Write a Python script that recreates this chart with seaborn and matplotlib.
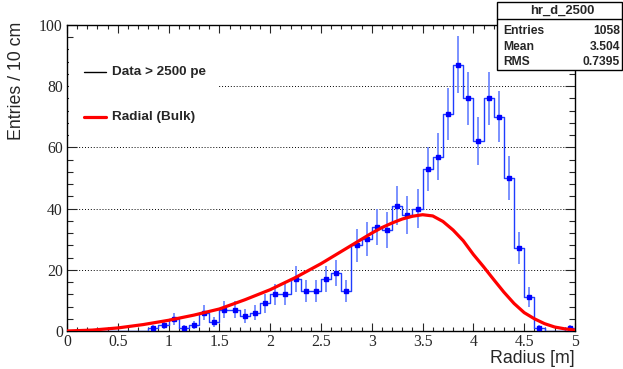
import numpy as np
import pandas as pd
import matplotlib
matplotlib.use("Agg")
import matplotlib.pyplot as plt
import seaborn as sns
from matplotlib.patches import Rectangle
from matplotlib.lines import Line2D
from matplotlib.ticker import MultipleLocator

# ---- data ----
bin_width = 0.1
bin_lo = np.round(np.arange(0.0, 5.0, bin_width), 2)
counts = [0, 0, 0, 0, 0, 0, 0, 0,
          1, 2, 4, 1, 2, 6, 3, 7, 7, 5, 6, 9,
          12, 12, 17, 13, 13, 17, 19, 13, 28, 30,
          34, 33, 41, 38, 40, 53, 57, 71, 87, 76,
          62, 76, 70, 50, 27, 11, 1, 0, 0, 1]

curve_r = [0, 0.25, 0.5, 0.75, 1.0, 1.25, 1.5, 1.75, 2.0, 2.25, 2.5, 2.75,
           3.0, 3.1, 3.2, 3.3, 3.4, 3.5, 3.6, 3.7, 3.8, 3.9, 4.0, 4.1, 4.2,
           4.3, 4.4, 4.5, 4.6, 4.7, 4.8, 4.9, 5.0]
curve_y = [0, 0.3, 1.0, 2.1, 3.5, 5.2, 7.2, 10.2, 13.5, 17.5, 22.0, 27.0,
           32.0, 33.8, 35.3, 36.6, 37.5, 38.0, 37.6, 35.8, 33.0, 29.5, 25.0,
           21.0, 16.8, 12.7, 9.0, 6.0, 4.0, 2.4, 1.3, 0.7, 0.3]

stats_title = "hr_d_2500"
stats_names = ["Entries", "Mean", "RMS"]
stats_values = ["1058", "3.504", "0.7395"]

legend_labels = ["Data > 2500 pe", "Radial (Bulk)"]

# ---- figure ----
sns.set_style("ticks")
plt.rcParams["font.family"] = ["Liberation Sans", "DejaVu Sans"]

W, H = 623, 369
fig = plt.figure(figsize=(W / 100, H / 100), dpi=100)
L, R, T, B = 67, 575, 25, 331
ax = fig.add_axes([L / W, 1 - B / H, (R - L) / W, (B - T) / H])

counts = np.array(counts, dtype=float)
centers = bin_lo + bin_width / 2
hist_df = pd.DataFrame({"r": centers, "n": counts})

blue_line = "#1f3dff"
blue_err = "#7088ff"

sns.histplot(data=hist_df, x="r", weights="n", binwidth=bin_width, binrange=(0, 5),
             element="step", fill=False, color=blue_line, linewidth=1.0, ax=ax,
             zorder=3)

nz = counts > 0
ax.errorbar(centers[nz], counts[nz], yerr=np.sqrt(counts[nz]), fmt="none",
            ecolor=blue_err, elinewidth=1.3, zorder=4)
ax.plot(centers[nz], counts[nz], "s", color="#0000ff", markersize=2.2, zorder=5)

curve_df = pd.DataFrame({"r": curve_r, "y": curve_y})
sns.lineplot(data=curve_df, x="r", y="y", color="#ff0000", linewidth=2.3, ax=ax,
             zorder=6, sort=False)

ax.set_xlim(0, 5)
ax.set_ylim(0, 100)

ax.yaxis.grid(True, linestyle=(0, (1, 2)), color="black", linewidth=0.7)
ax.set_axisbelow(True)

ax.xaxis.set_major_locator(MultipleLocator(0.5))
ax.xaxis.set_minor_locator(MultipleLocator(0.1))
ax.yaxis.set_major_locator(MultipleLocator(20))
ax.yaxis.set_minor_locator(MultipleLocator(4))
ax.tick_params(which="both", direction="in", top=True, right=True, width=0.8)
ax.tick_params(axis="x", which="major", length=6, pad=2)
ax.tick_params(axis="x", which="minor", length=3)
ax.tick_params(axis="y", which="major", length=7, pad=3)
ax.tick_params(axis="y", which="minor", length=4)

xt = [0, 0.5, 1, 1.5, 2, 2.5, 3, 3.5, 4, 4.5, 5]
ax.set_xticks(xt)
ax.set_xticklabels([f"{v:g}" for v in xt], fontfamily="Liberation Serif", fontsize=11.3)
yt = [0, 20, 40, 60, 80, 100]
ax.set_yticks(yt)
ax.set_yticklabels([str(v) for v in yt], fontfamily="Liberation Serif", fontsize=11.3)

for s in ax.spines.values():
    s.set_visible(True)
    s.set_linewidth(1.0)
    s.set_color("black")

ax.set_xlabel("Radius [m]", loc="right", fontsize=12.8)
ax.xaxis.set_label_coords(1.0, -0.063)
ax.set_ylabel("Entries / 10 cm", loc="top", fontsize=12.8)
ax.yaxis.set_label_coords(-0.083, 1.01)

# legend (white box hides grid)
ax.add_patch(Rectangle((0.003, (331 - 138) / 306), (218 - 68) / 508, (138 - 42) / 306,
                       transform=ax.transAxes, facecolor="white", edgecolor="none",
                       zorder=1.5))
fig.add_artist(Line2D([84 / W, 106 / W], [1 - 72 / H, 1 - 72 / H], color="black",
                      linewidth=1.0, transform=fig.transFigure))
fig.add_artist(Line2D([84 / W, 106 / W], [1 - 117 / H, 1 - 117 / H], color="#ff0000",
                      linewidth=2.3, transform=fig.transFigure))
fig.text(112 / W, 1 - 72 / H, legend_labels[0], fontsize=9.7, fontweight="bold",
         va="center", ha="left")
fig.text(112 / W, 1 - 117 / H, legend_labels[1], fontsize=9.7, fontweight="bold",
         va="center", ha="left")

# stats box
bx0, bx1, by0, by1, bsep = 497, 622, 2, 70, 19
fig.add_artist(Rectangle((bx0 / W, 1 - by1 / H), (bx1 - bx0) / W, (by1 - by0) / H,
                         transform=fig.transFigure, facecolor="white",
                         edgecolor="black", linewidth=1.0))
fig.add_artist(Line2D([bx0 / W, bx1 / W], [1 - bsep / H, 1 - bsep / H], color="black",
                      linewidth=1.0, transform=fig.transFigure))
fig.text(562 / W, 1 - 10.5 / H, stats_title, fontsize=9.4,
         fontweight="bold", ha="center", va="center")
for i, (n, v) in enumerate(zip(stats_names, stats_values)):
    yy = 1 - (31 + 15.5 * i) / H
    fig.text(503 / W, yy, n, fontsize=8.7, fontweight="bold", ha="left", va="center")
    fig.text(620 / W, yy, v, fontsize=8.7, fontweight="bold", ha="right", va="center")

fig.savefig("out.png", dpi=100)
